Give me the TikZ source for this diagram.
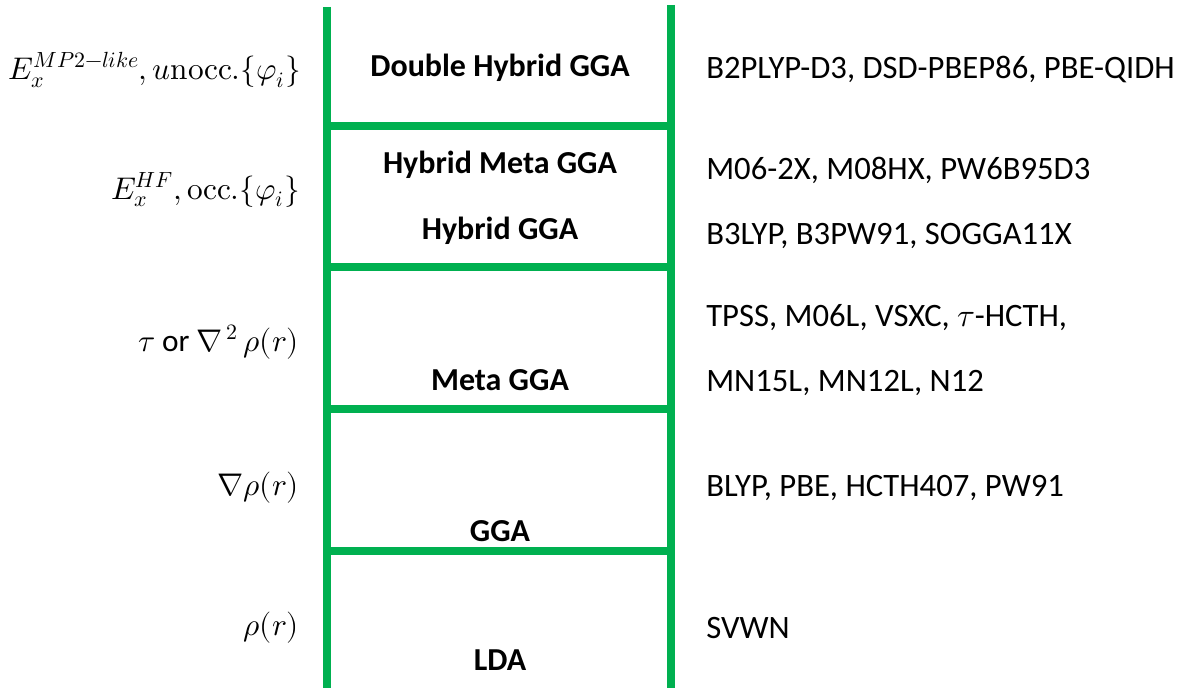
\documentclass[tikz,border=0pt]{standalone}
\usepackage{fontspec}
\usepackage{unicode-math}
\setmainfont{Carlito}
\setmathfont{Latin Modern Math}
\usepackage{xcolor}
\definecolor{laddergreen}{HTML}{00B050}

\begin{document}
\begin{tikzpicture}[
    x=0.75pt, y=-0.75pt,
    rail/.style={line width=6pt, laddergreen},
    rung/.style={line width=5.5pt, laddergreen},
    rungname/.style={font=\fontsize{24}{29}\selectfont\bfseries},
    ingredient/.style={anchor=east, inner sep=0pt, font=\fontsize{23.5}{28}\selectfont},
    functional/.style={anchor=west, inner sep=0pt, font=\fontsize{24.5}{29}\selectfont}
]
    \useasboundingbox (0,0) rectangle (1186,688);

    % Rails
    \draw[rail] (327,7) -- (327,688);
    \draw[rail] (671,5) -- (671,688);

    % Rungs
    \foreach \y in {126,267,409,551}
        \draw[rung] (327,\y) -- (671,\y);

    % Names of the rungs
    \node[rungname] (dh)    at (500,68)  {Double Hybrid GGA};
    \node[rungname] (hmeta) at (500,165) {Hybrid Meta GGA};
    \node[rungname] (hgga)  at (500,231) {Hybrid GGA};
    \node[rungname] (meta)  at (500,380) {Meta GGA};
    \node[rungname] (gga)   at (500,531) {GGA};
    \node[rungname] (lda)   at (500,660) {LDA};

    % Ingredients
    \node[ingredient] (ingdh)   at (301,70)  {$E_x^{MP2-like}, u\symup{nocc.}\{\varphi_i\}$};
    \node[ingredient] (inghf)   at (300,190) {$E_x^{HF}, \symup{occ.}\{\varphi_i\}$};
    \node[ingredient] (ingmeta) at (299,342) {$\tau$ or $\nabla^{\,2}\,\rho(r)$};
    \node[ingredient] (inggga)  at (299,488) {$\nabla\rho(r)$};
    \node[ingredient] (inglda)  at (299,628) {$\rho(r)$};

    % Examples
    \node[functional] (exdh)    at (706,70)  {B2PLYP-D3, DSD-PBEP86, PBE-QIDH};
    \node[functional] (exhmeta) at (706,170) {M06-2X, M08HX, PW6B95D3};
    \node[functional] (exhgga)  at (706,236) {B3LYP, B3PW91, SOGGA11X};
    \node[functional] (exmeta)  at (706,318) {TPSS, M06L, VSXC, $\tau$-HCTH,};
    \node[functional] (exmeta2) at (706,383) {MN15L, MN12L, N12};
    \node[functional] (exgga)   at (706,488) {BLYP, PBE, HCTH407, PW91};
    \node[functional] (exlda)   at (706,628) {SVWN};
\end{tikzpicture}
\end{document}
